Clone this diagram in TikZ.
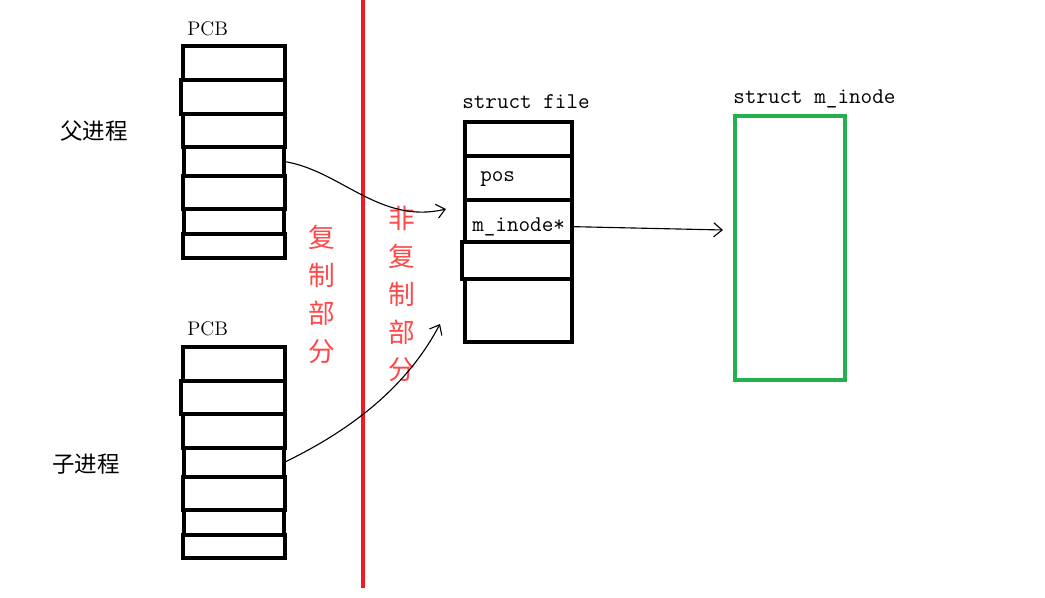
\documentclass[tikz,border=0pt]{standalone}
\usepackage{fontspec}
\newfontfamily\cjk{Noto Sans CJK SC}
\usetikzlibrary{calc}
\usetikzlibrary{arrows.meta}
\usetikzlibrary{positioning}

\definecolor{paintred}{RGB}{237,28,36}
\definecolor{notered}{RGB}{255,72,72}
\definecolor{paintgreen}{RGB}{34,177,76}

\begin{document}
\begin{tikzpicture}[
  x=0.025cm, y=-0.025cm,
  cell/.style={
    rectangle, draw, line width=2.7pt,
    inner sep=0pt, outer sep=0pt, anchor=north west},
  pcbrow/.style={cell, minimum width=2.55cm},
  inset/.style={cell, minimum width=2.5cm},
  filerow/.style={cell, minimum width=2.675cm},
  code/.style={inner sep=0pt, anchor=base west,
    font=\ttfamily\fontsize{16}{19}\selectfont},
  latin/.style={inner sep=0pt, anchor=base west,
    font=\rmfamily\fontsize{14}{16}\selectfont},
  hanzi/.style={inner sep=0pt, anchor=west,
    font=\cjk\fontsize{16}{19}\selectfont},
  redtxt/.style={inner sep=0pt, align=center, text=notered,
    font=\cjk\fontsize{19}{27}\selectfont},
  arr/.style={-{Straight Barb[length=6pt, width=10pt]}, line width=0.8pt},
]
  \useasboundingbox (0,0) rectangle (1045,598);

  % ── Parent PCB ──────────────────────────────────────────────────────────
  \node[pcbrow, minimum height=0.85cm]  (pcbA1) at (183,46)  {};
  \node[cell, minimum width=2.6cm, minimum height=0.85cm] (pcbA2) at (181,80) {};
  \node[pcbrow, minimum height=0.825cm] (pcbA3) at (183,114) {};
  \node[inset,  minimum height=0.725cm] (pcbA4) at (184,147) {};
  \node[pcbrow, minimum height=0.825cm] (pcbA5) at (183,176) {};
  \node[inset,  minimum height=0.625cm] (pcbA6) at (184,209) {};
  \node[pcbrow, minimum height=0.6cm]   (pcbA7) at (183,234) {};
  \node[latin] (pcbAlbl) at (187,35) {PCB};
  \node[hanzi] (parent)  at (60,131) {父进程};

  % ── Child PCB ───────────────────────────────────────────────────────────
  \node[pcbrow, minimum height=0.85cm]  (pcbB1) at (183,347) {};
  \node[cell, minimum width=2.6cm, minimum height=0.825cm] (pcbB2) at (181,381) {};
  \node[pcbrow, minimum height=0.85cm]  (pcbB3) at (183,414) {};
  \node[inset,  minimum height=0.725cm] (pcbB4) at (184,448) {};
  \node[pcbrow, minimum height=0.825cm] (pcbB5) at (183,477) {};
  \node[inset,  minimum height=0.625cm] (pcbB6) at (184,510) {};
  \node[pcbrow, minimum height=0.575cm] (pcbB7) at (183,535) {};
  \node[latin] (pcbBlbl) at (187,335) {PCB};
  \node[hanzi] (child)   at (52,464)  {子进程};

  % ── Divider ─────────────────────────────────────────────────────────────
  \coordinate (splitTop) at (363,0);
  \coordinate (splitBot) at (363,588);
  \draw[paintred, line width=2.4pt] (splitTop) -- (splitBot);
  \node[redtxt] (copyTxt)   at (322,294) {复\\制\\部\\分};
  \node[redtxt] (nocopyTxt) at (402,294) {非\\复\\制\\部\\分};

  % ── struct file ─────────────────────────────────────────────────────────
  \node[filerow, minimum height=0.85cm]  (fileA) at (465,122) {};
  \node[filerow, minimum height=1.1cm]   (fileB) at (465,156) {};
  \node[filerow, minimum height=1.05cm]  (fileC) at (465,200) {};
  \node[cell, minimum width=2.75cm, minimum height=0.925cm] (fileD) at (462,242) {};
  \node[filerow, minimum height=1.575cm] (fileE) at (465,279) {};
  \node[code] (fileLbl) at (462,108) {struct file};
  \node[code] (posTxt)  at (480,181) {pos};
  \node[code] (ptrTxt)  at (472,231) {m\_inode*};

  % ── struct m_inode ──────────────────────────────────────────────────────
  \node[cell, draw=paintgreen, minimum width=2.75cm, minimum height=6.6cm]
      (inode) at (735,116) {};
  \node[code] (inodeLbl) at (733,103) {struct m\_inode};

  % ── Pointers ────────────────────────────────────────────────────────────
  \coordinate (tipA) at (446,209);
  \coordinate (tipB) at (440,324);
  \coordinate (tipC) at (723,230);
  \draw[arr] (pcbA4.east) .. controls (340,170) and (380,225) .. (tipA);
  \draw[arr] (pcbB4.east) .. controls (330,440) and (400,400) .. (tipB);
  \draw[arr] ([yshift=-4pt]fileC.east) -- (tipC);

\end{tikzpicture}
\end{document}
